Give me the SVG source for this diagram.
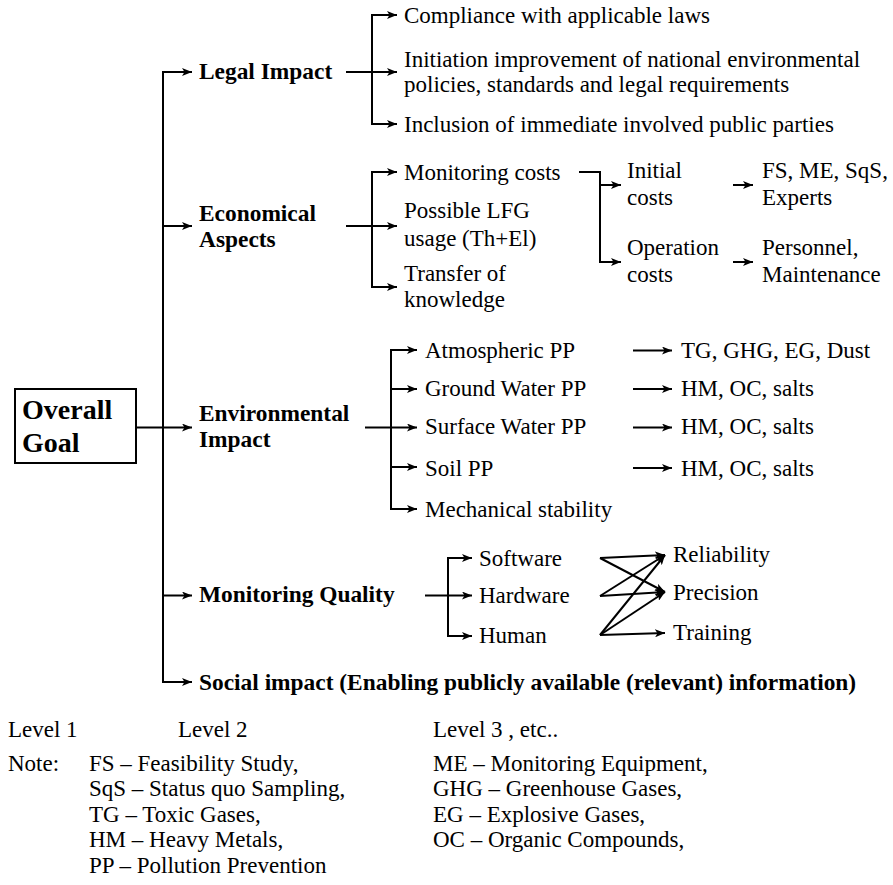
<svg xmlns="http://www.w3.org/2000/svg" width="893" height="885" viewBox="0 0 893 885">
<style>
text{font-family:"Liberation Serif","Times New Roman",serif;font-size:23px;fill:#000}
.b{font-weight:bold;font-size:23.4px}
.g{font-weight:bold;font-size:28px}
.c line,.c path{stroke:#000;stroke-width:2;fill:none}
.a{marker-end:url(#ah)}
</style>
<defs>
<marker id="ah" viewBox="0 0 10 8" markerWidth="10" markerHeight="8" refX="10" refY="4" markerUnits="userSpaceOnUse" orient="auto">
<path d="M0,0 L10,4 L0,8 L2.5,4 z" fill="#000"/>
</marker>
</defs>
<rect width="893" height="885" fill="#fff"/>

<g id="overall-goal">
<rect x="15" y="389" width="121" height="74" fill="#fff" stroke="#000" stroke-width="2"/>
<text class="g" x="22" y="419">Overall</text>
<text class="g" x="22" y="452">Goal</text>
</g>

<g id="legal-impact"><text class="b" x="199" y="79">Legal Impact</text></g>
<g id="economical-aspects"><text class="b" x="199" y="221">Economical</text><text class="b" x="199" y="247">Aspects</text></g>
<g id="environmental-impact"><text class="b" x="199" y="421">Environmental</text><text class="b" x="199" y="447">Impact</text></g>
<g id="monitoring-quality"><text class="b" x="199" y="602">Monitoring Quality</text></g>
<g id="social-impact"><text class="b" x="199" y="690">Social impact (Enabling publicly available (relevant) information)</text></g>

<g id="legal-compliance"><text x="404" y="23">Compliance with applicable laws</text></g>
<g id="legal-initiation"><text x="404" y="67">Initiation improvement of national environmental</text><text x="404" y="92">policies, standards and legal requirements</text></g>
<g id="legal-inclusion"><text x="404" y="132">Inclusion of immediate involved public parties</text></g>

<g id="monitoring-costs"><text x="404" y="180">Monitoring costs</text></g>
<g id="lfg-usage"><text x="404" y="218">Possible LFG</text><text x="404" y="246">usage (Th+El)</text></g>
<g id="transfer"><text x="404" y="281">Transfer of</text><text x="404" y="307">knowledge</text></g>
<g id="initial-costs"><text x="627" y="178">Initial</text><text x="627" y="205">costs</text></g>
<g id="operation-costs"><text x="627" y="255">Operation</text><text x="627" y="282">costs</text></g>
<g id="initial-items"><text x="762" y="178">FS, ME, SqS,</text><text x="762" y="205">Experts</text></g>
<g id="operation-items"><text x="762" y="255">Personnel,</text><text x="762" y="282">Maintenance</text></g>

<g id="atmospheric"><text x="425" y="358">Atmospheric PP</text></g>
<g id="ground-water"><text x="425" y="396">Ground Water PP</text></g>
<g id="surface-water"><text x="425" y="434">Surface Water PP</text></g>
<g id="soil"><text x="425" y="476">Soil PP</text></g>
<g id="mechanical"><text x="425" y="517">Mechanical stability</text></g>
<g id="atmospheric-items"><text x="681" y="358">TG, GHG, EG, Dust</text></g>
<g id="ground-items"><text x="681" y="396">HM, OC, salts</text></g>
<g id="surface-items"><text x="681" y="434">HM, OC, salts</text></g>
<g id="soil-items"><text x="681" y="476">HM, OC, salts</text></g>

<g id="software"><text x="479" y="566">Software</text></g>
<g id="hardware"><text x="479" y="603">Hardware</text></g>
<g id="human"><text x="479" y="643">Human</text></g>
<g id="reliability"><text x="673" y="562">Reliability</text></g>
<g id="precision"><text x="673" y="600">Precision</text></g>
<g id="training"><text x="673" y="640">Training</text></g>

<g id="legend">
<text x="8" y="737">Level 1</text>
<text x="178" y="737">Level 2</text>
<text x="433" y="737">Level 3 , etc..</text>
<text x="8" y="771">Note:</text>
<text x="89" y="771">FS – Feasibility Study,</text>
<text x="89" y="796">SqS – Status quo Sampling,</text>
<text x="89" y="822">TG – Toxic Gases,</text>
<text x="89" y="847">HM – Heavy Metals,</text>
<text x="89" y="873">PP – Pollution Prevention</text>
<text x="433" y="771">ME – Monitoring Equipment,</text>
<text x="433" y="796">GHG – Greenhouse Gases,</text>
<text x="433" y="822">EG – Explosive Gases,</text>
<text x="433" y="847">OC – Organic Compounds,</text>
</g>

<g id="connectors" class="c">
<line x1="163" y1="71" x2="163" y2="683"/>
<line class="a" x1="163" y1="72" x2="192" y2="72"/>
<line class="a" x1="163" y1="226" x2="192" y2="226"/>
<line class="a" x1="136" y1="427.5" x2="192" y2="427.5"/>
<line class="a" x1="163" y1="595.5" x2="192" y2="595.5"/>
<line class="a" x1="162" y1="682" x2="192" y2="682"/>

<line x1="346" y1="72" x2="372" y2="72"/>
<line x1="372" y1="14" x2="372" y2="125"/>
<line class="a" x1="371" y1="15" x2="397" y2="15"/>
<line class="a" x1="372" y1="72" x2="397" y2="72"/>
<line class="a" x1="371" y1="124" x2="397" y2="124"/>

<line x1="346" y1="226" x2="372" y2="226"/>
<line x1="372" y1="171" x2="372" y2="288"/>
<line class="a" x1="371" y1="172" x2="397" y2="172"/>
<line class="a" x1="372" y1="226" x2="397" y2="226"/>
<line class="a" x1="371" y1="287" x2="397" y2="287"/>

<path class="a" d="M579,172 H600 V262 H621"/>
<line class="a" x1="600" y1="185" x2="621" y2="185"/>
<line class="a" x1="733" y1="185" x2="753" y2="185"/>
<line class="a" x1="733" y1="262" x2="753" y2="262"/>

<line x1="365" y1="427.5" x2="391" y2="427.5"/>
<line x1="391" y1="349" x2="391" y2="510"/>
<line class="a" x1="390" y1="350" x2="417" y2="350"/>
<line class="a" x1="391" y1="389" x2="417" y2="389"/>
<line class="a" x1="391" y1="427.5" x2="417" y2="427.5"/>
<line class="a" x1="391" y1="467" x2="417" y2="467"/>
<line class="a" x1="390" y1="509" x2="417" y2="509"/>

<line class="a" x1="633" y1="350.5" x2="672" y2="350.5"/>
<line class="a" x1="633" y1="389" x2="672" y2="389"/>
<line class="a" x1="633" y1="427.5" x2="672" y2="427.5"/>
<line class="a" x1="633" y1="468" x2="672" y2="468"/>

<line x1="425" y1="595.5" x2="448" y2="595.5"/>
<line x1="448" y1="557" x2="448" y2="637"/>
<line class="a" x1="447" y1="558" x2="472" y2="558"/>
<line class="a" x1="448" y1="595.5" x2="472" y2="595.5"/>
<line class="a" x1="447" y1="636" x2="472" y2="636"/>

<line class="a" x1="600" y1="558" x2="665" y2="555"/>
<line class="a" x1="600" y1="558" x2="665" y2="592"/>
<line class="a" x1="600" y1="596" x2="665" y2="555"/>
<line class="a" x1="600" y1="596" x2="665" y2="592"/>
<line class="a" x1="600" y1="635" x2="665" y2="555"/>
<line class="a" x1="600" y1="635" x2="665" y2="592"/>
<line class="a" x1="600" y1="635" x2="665" y2="633"/>
</g>
</svg>
